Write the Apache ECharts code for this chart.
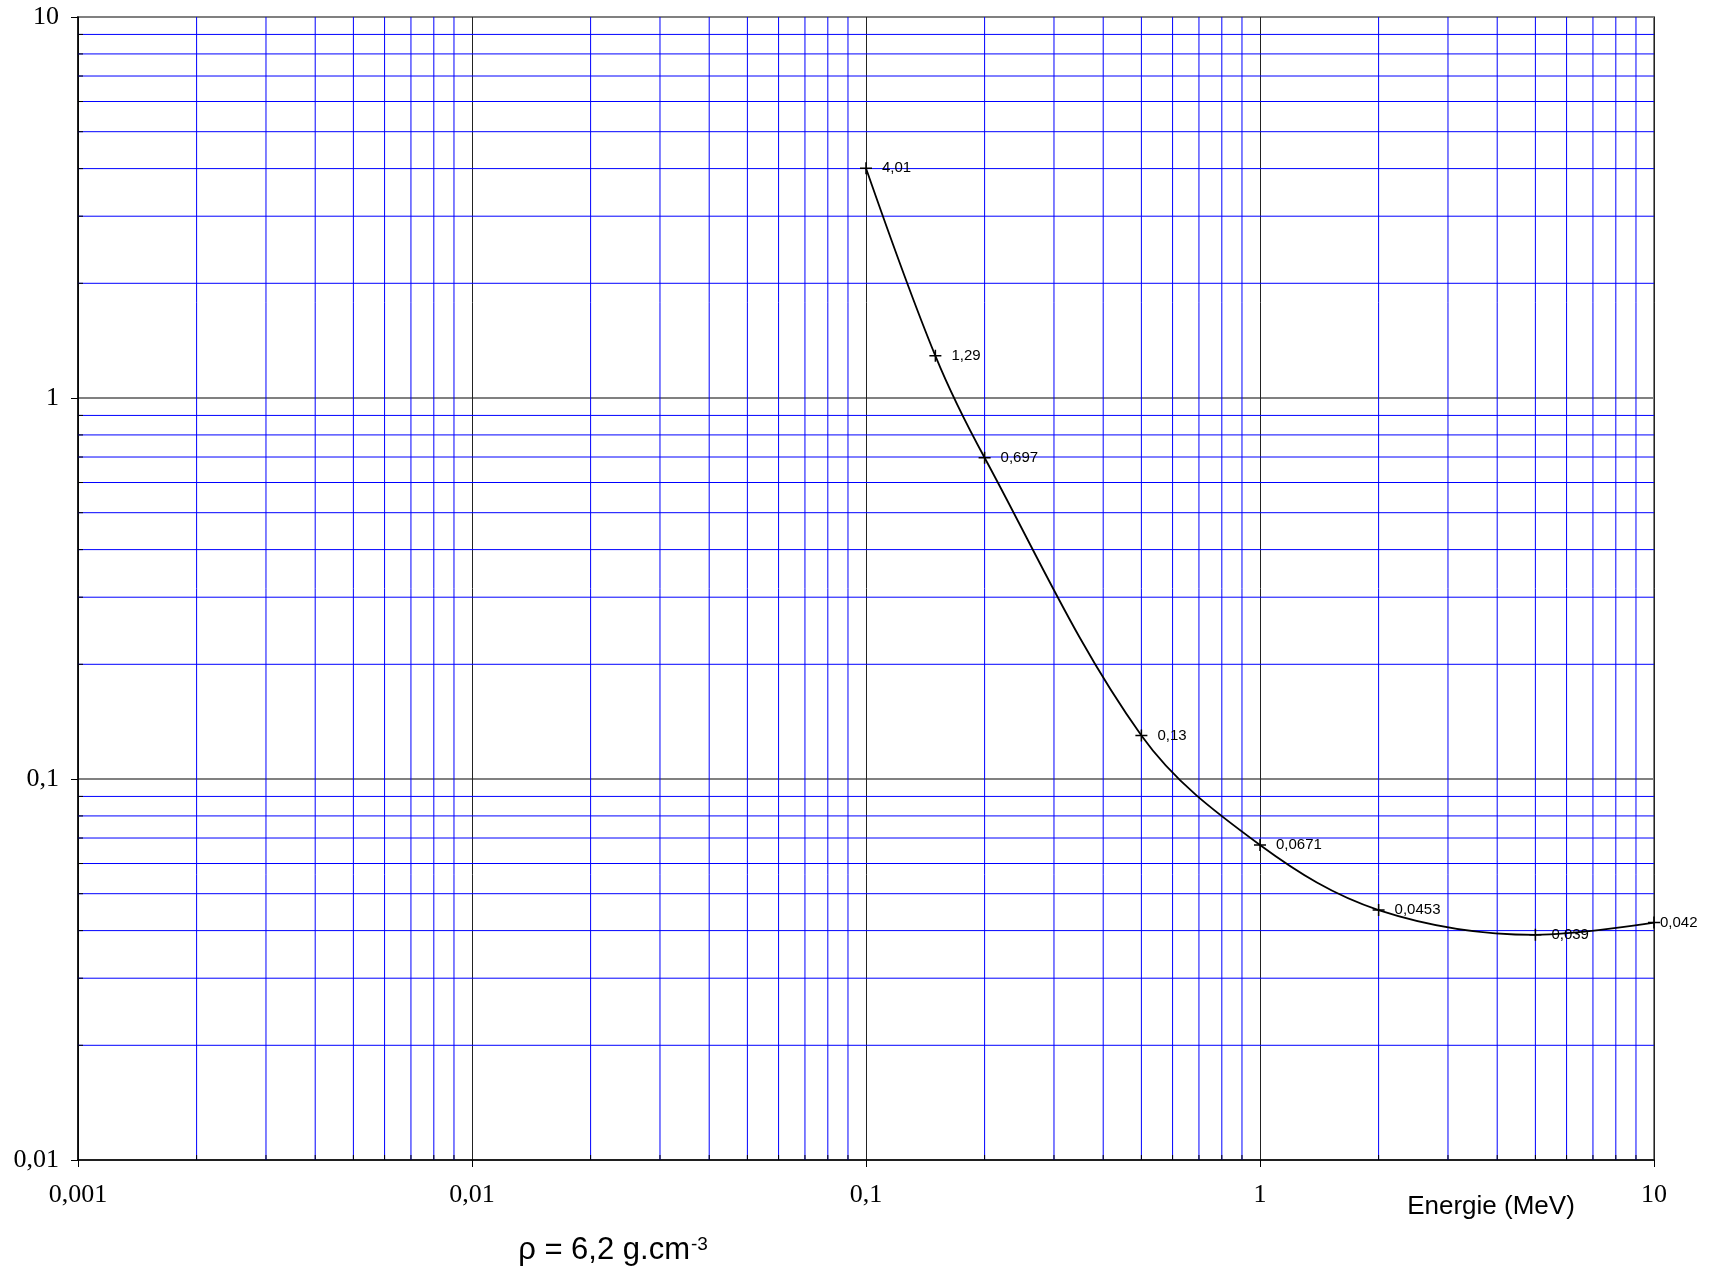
<!DOCTYPE html>
<html><head><meta charset="utf-8">
<script src="https://cdn.jsdelivr.net/npm/echarts@6/dist/echarts.min.js"></script>
<style>html,body{margin:0;padding:0;background:#fff}#c{width:1717px;height:1272px}</style>
</head><body><div id="c"></div>
<script>
// Data (energy in MeV, attenuation coefficient)
const energies = [0.1, 0.15, 0.2, 0.5, 1, 2, 5, 10];
const attenuation = [4.01, 1.29, 0.697, 0.13, 0.0671, 0.0453, 0.039, 0.042];
// Axis ticks / labels
const xTickLabels = ['0,001', '0,01', '0,1', '1', '10'];
const yTickLabels = ['0,01', '0,1', '1', '10'];
const xMinorTicks = [0.002,0.003,0.004,0.005,0.006,0.007,0.008,0.009,
  0.02,0.03,0.04,0.05,0.06,0.07,0.08,0.09,
  0.2,0.3,0.4,0.5,0.6,0.7,0.8,0.9,
  2,3,4,5,6,7,8,9];
const yMinorTicks = [0.02,0.03,0.04,0.05,0.06,0.07,0.08,0.09,
  0.2,0.3,0.4,0.5,0.6,0.7,0.8,0.9,
  2,3,4,5,6,7,8,9];
const xLabel = 'Energie (MeV)';
const densityText = 'ρ = 6,2 g.cm';
const densityExp = '-3';

const chart = echarts.init(document.getElementById('c'), null, {renderer: 'canvas'});
const serif = '"Liberation Serif", "Times New Roman", serif';
const sans = '"Liberation Sans", Arial, sans-serif';
const BLUE = '#0000ff';

function minorX(params, api) {
  const cs = params.coordSys;
  const p = api.coord([api.value(0), api.value(1)]);
  return {type: 'group', children: [
    {type: 'line', shape: {x1: p[0], y1: cs.y, x2: p[0], y2: cs.y + cs.height}, style: {stroke: BLUE, lineWidth: 1}},
    {type: 'line', shape: {x1: p[0], y1: cs.y + cs.height, x2: p[0], y2: cs.y + cs.height - 5}, style: {stroke: '#000', lineWidth: 1}}
  ]};
}
function minorY(params, api) {
  const cs = params.coordSys;
  const p = api.coord([api.value(0), api.value(1)]);
  return {type: 'group', children: [
    {type: 'line', shape: {x1: cs.x, y1: p[1], x2: cs.x + cs.width, y2: p[1]}, style: {stroke: BLUE, lineWidth: 1}},
    {type: 'line', shape: {x1: cs.x, y1: p[1], x2: cs.x + 5, y2: p[1]}, style: {stroke: '#000', lineWidth: 1}}
  ]};
}

const plus = 'path://M0,5.25H12V6.75H0Z M5.25,0H6.75V12H5.25Z';

chart.setOption({
  animation: false,
  backgroundColor: '#fff',
  grid: {left: 78, right: 63, top: 17, bottom: 112, show: true, borderColor: '#808080', borderWidth: 2, backgroundColor: 'transparent'},
  xAxis: {
    type: 'log', logBase: 10, min: 0.001, max: 10,
    axisLine: {show: true, onZero: false, lineStyle: {color: '#000', width: 1.5}},
    axisTick: {show: true, inside: false, length: 7, lineStyle: {color: '#000'}},
    axisLabel: {margin: 22, fontFamily: serif, fontSize: 26, color: '#000',
      formatter: v => xTickLabels[Math.round(Math.log10(v)) + 3]},
    splitLine: {show: true, lineStyle: {color: '#222', width: 1}}
  },
  yAxis: {
    type: 'log', logBase: 10, min: 0.01, max: 10,
    axisLine: {show: true, onZero: false, lineStyle: {color: '#000', width: 1.5}},
    axisTick: {show: true, inside: false, length: 7, lineStyle: {color: '#000'}},
    axisLabel: {margin: 19, fontFamily: serif, fontSize: 26, color: '#000',
      formatter: v => yTickLabels[Math.round(Math.log10(v)) + 2]},
    splitLine: {show: true, lineStyle: {color: '#808080', width: 2}}
  },
  series: [
    {type: 'custom', renderItem: minorX, silent: true, z: 1,
      data: xMinorTicks.map(v => [v, 0.01])},
    {type: 'custom', renderItem: minorY, silent: true, z: 1,
      data: yMinorTicks.map(v => [0.001, v])},
    {
      type: 'line', z: 5,
      data: energies.map((e, i) => {
        const d = {value: [e, attenuation[i]]};
        if (i === energies.length - 1) d.label = {distance: 0};
        return d;
      }),
      smooth: 0.35,
      symbol: plus, symbolSize: 12, showAllSymbol: true,
      lineStyle: {color: '#000', width: 1.8},
      itemStyle: {color: '#000'},
      label: {show: true, position: 'right', distance: 10, fontFamily: sans, fontSize: 15, color: '#000',
        formatter: p => String(p.value[1]).replace('.', ',')}
    }
  ],
  graphic: [
    {type: 'text', x: 1491, y: 1207, style: {text: xLabel, font: '26px ' + sans, fill: '#000', textAlign: 'center', textVerticalAlign: 'middle'}},
    {type: 'text', x: 690, y: 1250, style: {text: densityText, font: '31px ' + sans, fill: '#000', textAlign: 'right', textVerticalAlign: 'middle'}},
    {type: 'text', x: 691, y: 1245, style: {text: densityExp, font: '19px ' + sans, fill: '#000', textAlign: 'left', textVerticalAlign: 'middle'}}
  ]
});
</script>
</body></html>
